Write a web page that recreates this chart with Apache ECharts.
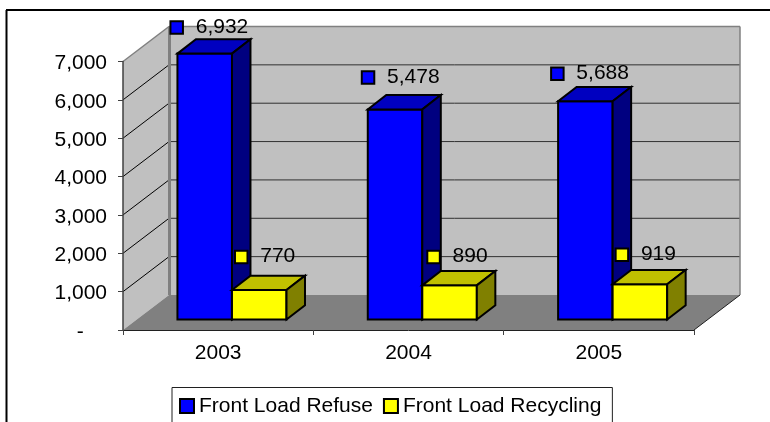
<!DOCTYPE html>
<html>
<head>
<meta charset="utf-8">
<style>
	html, body { margin: 0; padding: 0; background: #fff; }
	#chart { width: 770px; height: 422px; }
</style>
<script src="https://cdn.jsdelivr.net/npm/echarts@6/dist/echarts.min.js"></script>
</head>
<body>
<div id="chart"></div>
<script>
const categories = ['2003', '2004', '2005'];
const refuse = [6932, 5478, 5688];
const recycling = [770, 890, 919];
const yTicks = [0, 1000, 2000, 3000, 4000, 5000, 6000, 7000];

// 3d look, all in pixels
const WALL_DX = 46;
const WALL_DY = 35;
const BAR_SHIFT_X = 13.8;
const BAR_SHIFT_Y = 10.5;
const BAR_DX = 18.5;
const BAR_DY = 14.3;
const BAR_WIDTH_RATIO = 0.2865;
const FONT = '21px "Liberation Sans", Arial, sans-serif';

// excel labels were dragged by hand, so each one has its own nudge
const refuseNudge = [[-28, -26], [-27, -32], [-28, -27.6]];
const recyclingNudge = [[-18, -33], [-16, -28.4], [-18, -29.5]];

const chart = echarts.init(document.getElementById('chart'));

function poly(points, fill, stroke, width) {
	return {
		type: 'polygon',
		shape: { points: points },
		style: { fill: fill, stroke: stroke || null, lineWidth: width || 0, lineJoin: 'miter' }
	};
}

function line(x1, y1, x2, y2, stroke, width) {
	return {
		type: 'line',
		shape: { x1: x1, y1: y1, x2: x2, y2: y2 },
		style: { stroke: stroke, lineWidth: width }
	};
}

function renderWalls(params, api) {
	var y0 = api.coord([0, 0])[1];
	var ytop = api.coord([0, yTicks[yTicks.length - 1]])[1];
	var x0 = params.coordSys.x;
	var x1 = x0 + params.coordSys.width;
	var kids = [];

	kids.push(poly([[x0, ytop], [x0 + WALL_DX, ytop - WALL_DY], [x0 + WALL_DX, y0 - WALL_DY], [x0, y0]], '#c0c0c0'));
	kids.push(poly([[x0 + WALL_DX, ytop - WALL_DY], [x1 + WALL_DX, ytop - WALL_DY], [x1 + WALL_DX, y0 - WALL_DY], [x0 + WALL_DX, y0 - WALL_DY]], '#c0c0c0'));
	kids.push(poly([[x0, y0], [x1, y0], [x1 + WALL_DX, y0 - WALL_DY], [x0 + WALL_DX, y0 - WALL_DY]], '#808080'));

	for (var v of yTicks) {
		if (v == 0 || v == yTicks[yTicks.length - 1]) continue;
		var y = api.coord([0, v])[1];
		kids.push(line(x0, y, x0 + WALL_DX, y - WALL_DY, '#000', 1));
		kids.push(line(x0 + WALL_DX, y - WALL_DY, x1 + WALL_DX, y - WALL_DY, '#303030', 1));
	}

	// wall frame
	kids.push(line(x0, ytop, x0 + WALL_DX, ytop - WALL_DY, '#808080', 1.5));
	kids.push(line(x0 + WALL_DX, ytop - WALL_DY, x1 + WALL_DX, ytop - WALL_DY, '#808080', 1.5));
	kids.push(line(x1 + WALL_DX, ytop - WALL_DY, x1 + WALL_DX, y0 - WALL_DY, '#808080', 1.5));
	kids.push(line(x0 + WALL_DX + 0.5, ytop - WALL_DY, x0 + WALL_DX + 0.5, y0 - WALL_DY, '#808080', 3));
	kids.push(line(x1, y0, x1 + WALL_DX, y0 - WALL_DY, '#202020', 1));

	return { type: 'group', children: kids };
}

function makeBarRenderer(side, colors, nudge) {
	return function (params, api) {
		var i = api.value(0);
		var v = api.value(1);
		var s = api.size([1, 0])[0];
		var w = s * BAR_WIDTH_RATIO;
		var c = api.coord([i, 0]);
		var t = api.coord([i, v]);
		var xc = c[0] + BAR_SHIFT_X;
		var xl = side < 0 ? xc - w : xc;
		var xr = xl + w;
		var yb = c[1] - BAR_SHIFT_Y;
		var yt = t[1] - BAR_SHIFT_Y;
		var mx = (xl + xr) / 2 + nudge[i][0];
		var my = yt + nudge[i][1];
		var kids = [
			poly([[xl, yb], [xr, yb], [xr, yt], [xl, yt]], colors.front, '#000', 2),
			poly([[xl, yt], [xr, yt], [xr + BAR_DX, yt - BAR_DY], [xl + BAR_DX, yt - BAR_DY]], colors.top, '#000', 2),
			poly([[xr, yb], [xr + BAR_DX, yb - BAR_DY], [xr + BAR_DX, yt - BAR_DY], [xr, yt]], colors.side, '#000', 2),
			{
				type: 'rect',
				shape: { x: mx - 6.25, y: my - 6.25, width: 12.5, height: 12.5 },
				style: { fill: colors.front, stroke: '#000', lineWidth: 2 }
			},
			{
				type: 'text',
				style: {
					x: mx + 19,
					y: my - 0.5,
					text: v.toLocaleString('en-US'),
					font: FONT,
					fill: '#000',
					textAlign: 'left',
					textVerticalAlign: 'middle'
				}
			}
		];
		return { type: 'group', children: kids };
	};
}

const blue = { front: '#0000ff', top: '#0000c0', side: '#000080' };
const yellow = { front: '#ffff00', top: '#c0c000', side: '#808000' };

chart.setOption({
	animation: false,
	backgroundColor: '#fff',
	textStyle: { fontFamily: '"Liberation Sans", Arial, sans-serif' },
	color: ['#0000ff', '#ffff00'],
	grid: { left: 123, right: 76, top: 61.5, bottom: 92 },
	xAxis: {
		type: 'category',
		data: categories,
		z: 5,
		axisLine: { lineStyle: { color: '#202020', width: 1 } },
		axisTick: { show: true, alignWithLabel: false, length: 5, lineStyle: { color: '#404040', width: 1 } },
		axisLabel: { color: '#000', fontSize: 21, margin: 13 },
		splitLine: { show: false }
	},
	yAxis: {
		type: 'value',
		min: 0,
		max: 7000,
		interval: 1000,
		z: 5,
		axisLine: { show: true, lineStyle: { color: '#404040', width: 1.5 } },
		axisTick: { show: true, length: 5, lineStyle: { color: '#404040', width: 1 } },
		axisLabel: {
			color: '#000',
			fontSize: 21,
			margin: 16,
			formatter: (v) => '{a|' + (v == 0 ? '-    ' : v.toLocaleString('en-US')) + '}',
			rich: { a: { fontSize: 21, color: '#000', padding: [4, 0, 0, 0] } }
		},
		splitLine: { show: false }
	},
	legend: {
		left: 172,
		top: 387.5,
		padding: [8, 11, 8, 7],
		orient: 'horizontal',
		itemWidth: 14,
		itemHeight: 14,
		itemGap: 10,
		borderColor: '#202020',
		borderWidth: 1,
		backgroundColor: '#fff',
		textStyle: { color: '#000', fontSize: 21 },
		data: [
			{ name: 'Front Load Refuse', icon: 'rect', itemStyle: { color: blue.front, borderColor: '#000', borderWidth: 2 } },
			{ name: 'Front Load Recycling', icon: 'rect', itemStyle: { color: yellow.front, borderColor: '#000', borderWidth: 2 } }
		]
	},
	graphic: [
		{ type: 'line', z: 10, shape: { x1: 6, y1: 10, x2: 770, y2: 10 }, style: { stroke: '#000', lineWidth: 2 } },
		{ type: 'line', z: 10, shape: { x1: 6.5, y1: 10, x2: 6.5, y2: 422 }, style: { stroke: '#000', lineWidth: 2 } }
	],
	series: [
		{
			name: 'walls',
			type: 'custom',
			z: 1,
			silent: true,
			encode: { x: 0, y: 1 },
			data: [[0, 0]],
			renderItem: renderWalls
		},
		{
			name: 'Front Load Refuse',
			type: 'custom',
			z: 2,
			encode: { x: 0, y: 1 },
			data: refuse.map((v, i) => [i, v]),
			renderItem: makeBarRenderer(-1, blue, refuseNudge)
		},
		{
			name: 'Front Load Recycling',
			type: 'custom',
			z: 3,
			encode: { x: 0, y: 1 },
			data: recycling.map((v, i) => [i, v]),
			renderItem: makeBarRenderer(1, yellow, recyclingNudge)
		}
	]
});
</script>
</body>
</html>
